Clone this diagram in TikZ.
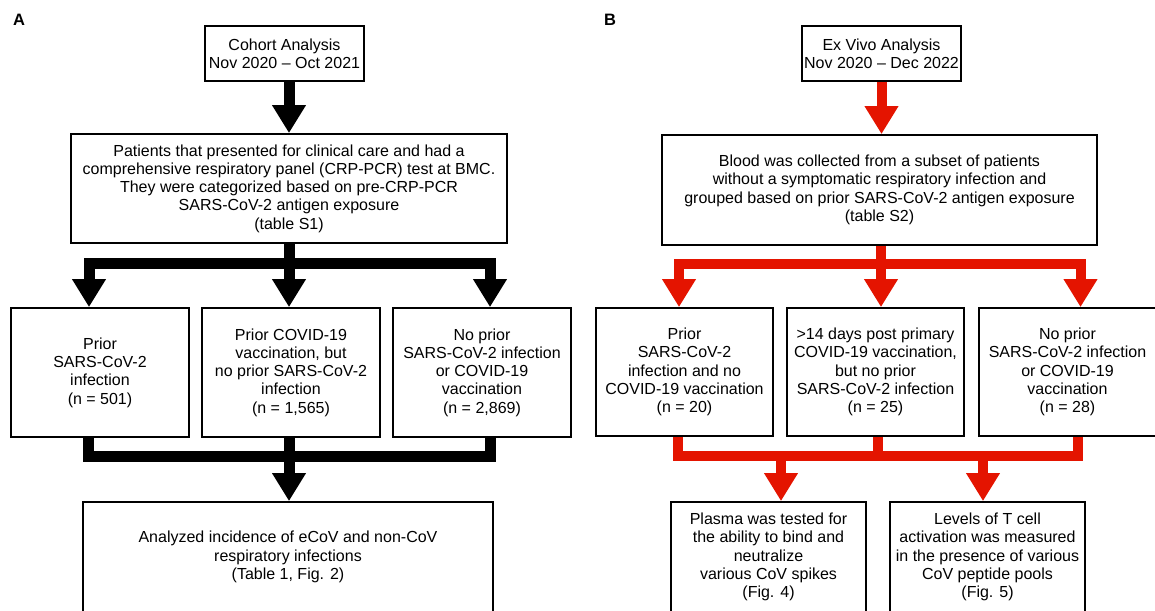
\documentclass[tikz,border=0pt]{standalone}
\usepackage{fontspec}
\setmainfont{Liberation Sans}
\usetikzlibrary{arrows.meta}
\definecolor{flowred}{RGB}{228,20,0}

\begin{document}
\begin{tikzpicture}[x=1pt, y=-1pt,
  box/.style={draw, line width=1.8pt, inner sep=0pt, align=center, font=\fontsize{16}{18.3}\selectfont},
  fat/.style={line width=11pt, black},
  fat arrow/.style={fat, -{Triangle[width=32pt, length=28pt]}},
  red fat/.style={line width=10pt, flowred},
  red arrow/.style={red fat, -{Triangle[width=32pt, length=28pt]}}]
\clip (0,0) rectangle (1155,610);

% panel A
\node[font=\bfseries\fontsize{16.5}{18}\selectfont] (Label A) at (19,20) {A};
\node[box, minimum width=159pt, minimum height=55pt] (Cohort) at (284.5,53.5) {Cohort Analysis\\Nov 2020 -- Oct 2021};
\node[box, minimum width=436pt, minimum height=109pt] (Patients) at (289,188.5) {Patients that presented for clinical care and had a\\comprehensive respiratory panel (CRP-PCR) test at BMC.\\They were categorized based on pre-CRP-PCR\\SARS-CoV-2 antigen exposure\\(table S1)};
\node[box, minimum width=178pt, minimum height=129pt] (Prior Inf A) at (100,372.5) {Prior\\SARS-CoV-2\\infection\\(n = 501)};
\node[box, minimum width=178pt, minimum height=129pt] (Prior Vacc A) at (291,372.5) {Prior COVID-19\\vaccination, but\\no prior SARS-CoV-2\\infection\\(n = 1,565)};
\node[box, minimum width=178pt, minimum height=129pt] (No Prior A) at (482,372.5) {No prior\\SARS-CoV-2 infection\\or COVID-19\\vaccination\\(n = 2,869)};
\node[box, minimum width=410pt, minimum height=110pt] (Analyzed) at (288,557) {Analyzed incidence of eCoV and non-CoV\\respiratory infections\\(Table 1, Fig. 2)};

\coordinate (split A) at (289,263);
\coordinate (merge A) at (289,456.5);

\draw[fat arrow] (Cohort.south -| Patients.north) -- (Patients.north);
\draw[fat] (split A |- Patients.south) -- (split A);
\draw[fat arrow] (split A) -| ([xshift=-11pt]Prior Inf A.north);
\draw[fat arrow] (split A) -- (split A |- Prior Vacc A.north);
\draw[fat arrow] (split A) -| ([xshift=8pt]No Prior A.north);
\draw[fat] ([xshift=-12pt]Prior Inf A.south) |- (merge A);
\draw[fat] ([xshift=8pt]No Prior A.south) |- (merge A);
\draw[fat arrow] (merge A |- Prior Vacc A.south) -- (merge A |- Analyzed.north);

% panel B
\node[font=\bfseries\fontsize{16.5}{18}\selectfont] (Label B) at (610,20) {B};
\node[box, minimum width=159pt, minimum height=55pt] (Ex Vivo) at (881.5,53.5) {Ex Vivo Analysis\\Nov 2020 -- Dec 2022};
\node[box, minimum width=435pt, minimum height=110pt] (Blood) at (879.5,190) {Blood was collected from a subset of patients\\without a symptomatic respiratory infection and\\grouped based on prior SARS-CoV-2 antigen exposure\\(table S2)};
\node[box, minimum width=177pt, minimum height=128pt] (Prior Inf B) at (684.5,372) {Prior\\SARS-CoV-2\\infection and no\\COVID-19 vaccination\\(n = 20)};
\node[box, minimum width=177pt, minimum height=128pt] (Post Vacc B) at (875.5,372) {>14 days post primary\\COVID-19 vaccination,\\but no prior\\SARS-CoV-2 infection\\(n = 25)};
\node[box, minimum width=177pt, minimum height=128pt] (No Prior B) at (1067.5,372) {No prior\\SARS-CoV-2 infection\\or COVID-19\\vaccination\\(n = 28)};
\node[box, minimum width=195pt, minimum height=110pt] (Plasma) at (768.5,557) {Plasma was tested for\\the ability to bind and\\neutralize\\various CoV spikes\\(Fig. 4)};
\node[box, minimum width=195pt, minimum height=110pt] (T Cell) at (987.5,557) {Levels of T cell\\activation was measured\\in the presence of various\\CoV peptide pools\\(Fig. 5)};

\coordinate (split B) at (881,264);
\coordinate (merge B) at (877.5,456);
\coordinate (plasma in) at (781,456);
\coordinate (tcell in) at (983,456);

\draw[red arrow] (Ex Vivo.south) -- (Ex Vivo.south |- Blood.north);
\draw[red fat] (split B |- Blood.south) -- (split B);
\draw[red arrow] (split B) -| ([xshift=-5.5pt]Prior Inf B.north);
\draw[red arrow] (split B) -- (split B |- Post Vacc B.north);
\draw[red arrow] (split B) -| ([xshift=13pt]No Prior B.north);
\draw[red fat] ([xshift=-7pt]Prior Inf B.south) |- (merge B);
\draw[red fat] ([xshift=10.5pt]No Prior B.south) |- (merge B);
\draw[red fat] (merge B |- Post Vacc B.south) -- (merge B);
\draw[red arrow] (plasma in) -- (plasma in |- Plasma.north);
\draw[red arrow] (tcell in) -- (tcell in |- T Cell.north);
\end{tikzpicture}
\end{document}
